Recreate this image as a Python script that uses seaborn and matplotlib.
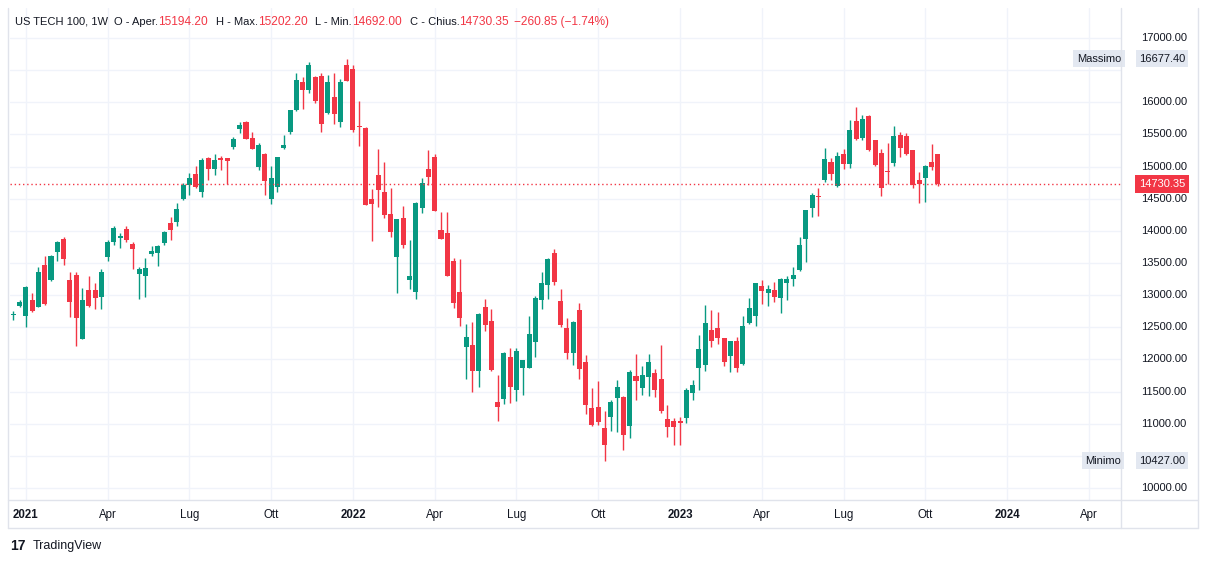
import pandas as pd
import seaborn as sns
import matplotlib
matplotlib.use("Agg")
import matplotlib.pyplot as plt
import matplotlib.transforms as mtransforms
from matplotlib.lines import Line2D

# weekly candles, US TECH 100 (first week: 21 Dec 2020)
FIRST_WEEK = "2020-12-21"

OPEN = [
    12685, 12835, 12680, 12924, 12820, 13469, 13235, 13671, 13873, 13235, 13313, 12322, 13080,
    13080, 12975, 13598, 13831, 13893, 14029, 13795, 13324, 13302, 13640, 13660,
    13810, 14122, 14142, 14495, 14713, 14880, 14600, 15128, 14962, 15130, 15128, 15309, 15589,
    15693, 15444, 14998, 15195, 14500, 14687, 15293, 15533, 15880, 16315, 16196, 16393,
    16414, 15838, 16077, 15698, 16580, 16518, 15631, 15605, 14495, 14869, 14609, 14262, 13598,
    14200, 13235, 13053, 14360, 14962, 15144, 14013, 13962, 13531, 13049, 12198, 12224,
    11824, 12815, 12597, 11337, 11384, 12037, 11524, 11862, 11871, 12275, 12924, 13157, 13660,
    12909, 12484, 12104, 12768, 11964, 11249, 11255, 10937, 11109, 11404, 11420, 10964,
    11742, 11550, 11721, 11784, 11695, 11073, 11042, 11042, 11093, 11482, 11862,
    11913, 12457, 12484, 12328, 12058, 12286, 11928, 12562, 12680, 13142, 13038, 13080, 12960, 13193,
    13251, 13391, 13868, 14351, 14542, 14791, 15071, 14698, 15195, 15040, 15709, 15440, 15791,
    15413, 15216, 14931, 15060, 15491, 15475, 15258, 14791, 14827, 15076, 15194.20,
]
HIGH = [
    12760, 12924, 13142, 13038, 13442, 13609, 13620, 13840, 13909, 13360, 13364, 13106, 13302,
    13189, 13406, 13857, 14075, 13971, 14075, 13831, 13442, 13582, 13764, 13780,
    14000, 14211, 14428, 14739, 14895, 15013, 15128, 15153, 15191, 15164, 15135, 15455, 15698,
    15705, 15538, 15367, 15211, 15009, 15155, 15491, 15885, 16460, 16398, 16631, 16414,
    16451, 16424, 16451, 16362, 16677.40, 16580, 16025, 15620, 14646, 15268, 15076, 14662, 14190,
    14386, 13857, 14445, 14817, 15258, 15195, 14298, 14298, 13577, 13562, 12555, 12586,
    12727, 12940, 12784, 11757, 12120, 12173, 12173, 11998, 12675, 12991, 13364, 13575, 13717,
    13100, 12639, 12600, 12873, 12068, 11550, 11669, 11197, 11368, 11680, 11425, 11835,
    12084, 11897, 12084, 11846, 12224, 11291, 11084, 11109, 11550, 11680, 12380,
    12850, 12768, 12742, 12340, 12290, 12344, 12675, 12960, 13190, 13235, 13157, 13199, 13271, 13302,
    13442, 13909, 14330, 14593, 14662, 15284, 15128, 15231, 15273, 15724, 15931, 15802, 15802,
    15420, 15268, 15371, 15631, 15542, 15527, 15265, 14920, 15024, 15351, 15202.20,
]
LOW = [
    12610, 12815, 12509, 12745, 12810, 12851, 13225, 13531, 13473, 12664, 12213, 12310, 12820,
    12784, 12784, 13531, 13780, 13728, 13831, 13402, 12935, 12966, 13609, 13458,
    13780, 13857, 14080, 14480, 14558, 14665, 14531, 14791, 14869, 14946, 14729, 15273, 15527,
    15425, 15270, 14946, 14558, 14422, 14609, 15273, 15507, 15869, 15895, 16149, 15993,
    15542, 15818, 15662, 15620, 16330, 15533, 15324, 14395, 13847, 14376, 14195, 13909, 13028,
    13738, 13095, 12940, 14282, 14713, 14305, 13870, 13295, 12804, 12524, 11690, 11497,
    11575, 12446, 11820, 11042, 11301, 11326, 11357, 11446, 11865, 12042, 12784, 12940, 13150,
    12500, 12006, 11913, 11690, 11151, 10969, 10979, 10427, 10891, 10875, 10591, 10772,
    11368, 11446, 11430, 11420, 11161, 10788, 10673, 10673, 11015, 11368, 11524,
    11819, 12198, 12235, 11897, 11809, 11799, 11913, 12555, 12524, 12857, 12835, 12898, 12727, 12924,
    13147, 13380, 13520, 14220, 14236, 14764, 14791, 14690, 14962, 14982, 15413, 15413, 15247,
    15010, 14542, 14724, 15009, 15144, 15185, 14671, 14438, 14453, 14940, 14692.00,
]
CLOSE = [
    12700, 12898, 13126, 12758, 13360, 12867, 13609, 13826, 13567, 12898, 12649, 12924, 12835,
    12960, 13355, 13826, 14049, 13924, 13857, 13713, 13402, 13427, 13686, 13769,
    13990, 14018, 14340, 14713, 14817, 14677, 15102, 14962, 15102, 15110, 15091, 15429, 15647,
    15433, 15278, 15335, 14780, 14822, 15149, 15335, 15880, 16347, 16196, 16580, 16025,
    15667, 16311, 15818, 16311, 16336, 15569, 15620, 14402, 14418, 14635, 14246, 13987, 14184,
    13780, 13297, 14438, 14749, 14842, 14313, 13878, 13302, 12882, 12649, 12348, 11824,
    12706, 12540, 11835, 11264, 12100, 11575, 12131, 11991, 12395, 12960, 13193, 13567, 13209,
    12540, 12104, 12586, 11851, 11291, 10979, 11031, 10668, 11342, 11575, 10824, 11809,
    11669, 11757, 11964, 11524, 11197, 10953, 10953, 11015, 11524, 11602, 12157,
    12571, 12286, 12338, 11964, 12286, 11871, 12520, 12795, 13184, 13064, 13091, 12975, 13251, 13251,
    13313, 13780, 14324, 14558, 14532, 15118, 14884, 15164, 15040, 15569, 15429, 15740, 15258,
    15024, 14671, 14915, 15475, 15293, 15191, 14713, 14729, 15013, 14991.20, 14730.35,
]

TICK_DATES = ["2021-01-04", "2021-04-05", "2021-07-05", "2021-10-04",
              "2022-01-03", "2022-04-04", "2022-07-04", "2022-10-03",
              "2023-01-02", "2023-04-03", "2023-07-03", "2023-10-02",
              "2024-01-01", "2024-04-01"]
TICK_LABELS = ["2021", "Apr", "Lug", "Ott", "2022", "Apr", "Lug", "Ott",
               "2023", "Apr", "Lug", "Ott", "2024", "Apr"]
PRICE_TICKS = [10000, 11000, 11500, 12000, 12500, 13000, 13500, 14000,
               14500, 15000, 15500, 16000, 17000]

UP = "#089981"
DOWN = "#f23645"
TEXT = "#131722"
GRID = "#f0f3fa"
BORDER = "#e0e3eb"

W, H = 1209, 564


def fx(px):
    return px / W


def fy(py):
    return 1 - py / H


sns.set_theme(style="white")
plt.rcParams["font.family"] = ["Liberation Sans", "DejaVu Sans"]

df = pd.DataFrame({"open": OPEN, "high": HIGH, "low": LOW, "close": CLOSE})
df["date"] = pd.date_range(FIRST_WEEK, periods=len(df), freq="W-MON")
df["x"] = range(len(df))
df["up"] = df["close"] >= df["open"]
df["color"] = df["up"].map({True: UP, False: DOWN})
df["body_lo"] = df[["open", "close"]].min(axis=1)
df["body_h"] = (df["close"] - df["open"]).abs().clip(lower=14)

first = pd.Timestamp(FIRST_WEEK)
tick_x = [(pd.Timestamp(d) - first).days / 7 for d in TICK_DATES]

fig = plt.figure(figsize=(W / 100, H / 100), dpi=100)
ax = fig.add_axes([fx(10), fy(500), (1121 - 10) / W, (500 - 8) / H])
ax.set_xlim(-0.52, 176.1)
ax.set_ylim(9813, 17467)
sns.despine(ax=ax, left=True, bottom=True)
ax.set_xticks([])
ax.set_yticks([])

# grid
for t in tick_x:
    ax.axvline(t, color=GRID, lw=1, zorder=0)
for p in range(10000, 17001, 500):
    ax.axhline(p, color=GRID, lw=1, zorder=0)

# candles
ax.vlines(df["x"], df["low"], df["high"], colors=df["color"], lw=1, zorder=2)
ax.bar(df["x"], df["body_h"], bottom=df["body_lo"], width=0.8,
       color=df["color"], edgecolor="none", zorder=3)

last = df.iloc[-1]
ax.axhline(last["close"], color=DOWN, lw=1, ls=(0, (1, 2)), zorder=4)

# frame lines
for seg in [((8, 1198), (500, 500)), ((1121, 1121), (8, 528)),
            ((8, 1198), (528, 528)), ((1198, 1198), (8, 528)), ((8, 8), (8, 528))]:
    fig.add_artist(Line2D([fx(seg[0][0]), fx(seg[0][1])], [fy(seg[1][0]), fy(seg[1][1])],
                          color=BORDER, lw=1))

# x labels
tr_x = mtransforms.blended_transform_factory(ax.transData, fig.transFigure)
for t, lab in zip(tick_x, TICK_LABELS):
    bold = lab.isdigit()
    ax.text(t, fy(515), lab, transform=tr_x, ha="center", va="center",
            fontsize=8.3, color=TEXT, fontweight="bold" if bold else "normal", clip_on=False)

# price axis
tr_y = mtransforms.blended_transform_factory(fig.transFigure, ax.transData)
for p in PRICE_TICKS:
    ax.text(fx(1164), p, f"{p:.2f}", transform=tr_y, ha="center", va="center",
            fontsize=8, color=TEXT, clip_on=False)

ax.text(fx(1162), last["close"], f"{last['close']:.2f}", transform=tr_y, ha="center",
        va="center", fontsize=8, color="white", clip_on=False,
        bbox=dict(boxstyle="square,pad=0.35", fc=DOWN, ec="none"))

hi = df["high"].max()
lo = df["low"].min()
for name, val, lx in [("Massimo", hi, 1099), ("Minimo", lo, 1103)]:
    ax.text(fx(lx), val, name, transform=tr_y, ha="center", va="center", fontsize=8,
            color=TEXT, clip_on=False,
            bbox=dict(boxstyle="square,pad=0.3", fc="#e3e8f1", ec="none"))
    ax.text(fx(1162), val, f"{val:.2f}", transform=tr_y, ha="center", va="center",
            fontsize=8, color=TEXT, clip_on=False,
            bbox=dict(boxstyle="square,pad=0.3", fc="#e3e8f1", ec="none"))

# legend line, pieces placed one after another
renderer = fig.canvas.get_renderer()
prev = df.iloc[-2]["close"]
chg = last["close"] - prev
parts = [
    ("US TECH 100, 1W", TEXT, 8.0, 6),
    ("O - Aper.", TEXT, 8.0, 0), (f"{last['open']:.2f}", DOWN, 8.6, 8),
    ("H - Max.", TEXT, 8.0, 0), (f"{last['high']:.2f}", DOWN, 8.6, 8),
    ("L - Min.", TEXT, 8.0, 0), (f"{last['low']:.2f}", DOWN, 8.6, 8),
    ("C - Chius.", TEXT, 8.0, 0), (f"{last['close']:.2f}", DOWN, 8.6, 5),
    (f"\u2212{abs(chg):.2f} (\u2212{abs(chg) / prev * 100:.2f}%)", DOWN, 8.6, 0),
]
x = 15
for s, c, size, gap in parts:
    t = fig.text(fx(x), fy(22), s, color=c, fontsize=size, ha="left", va="center")
    x += t.get_window_extent(renderer).width + gap

# watermark
fig.text(fx(10), fy(546), "17", fontsize=10, fontweight="bold", color=TEXT,
         ha="left", va="center")
fig.text(fx(33), fy(546), "TradingView", fontsize=9, color=TEXT, ha="left", va="center")

fig.savefig("out.png", dpi=100, facecolor="white")
